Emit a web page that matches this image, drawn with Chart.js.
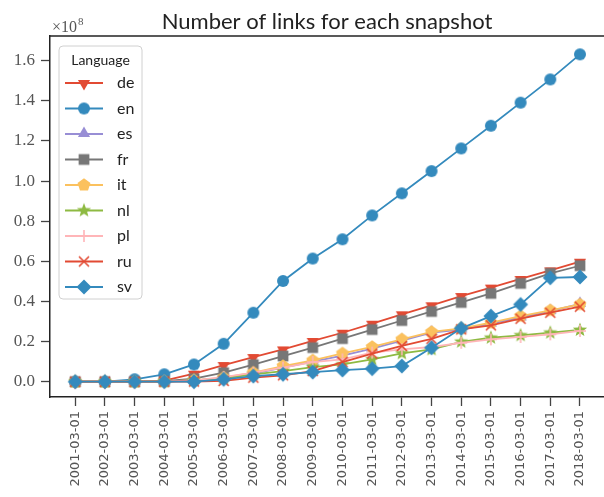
<!DOCTYPE html>
<html lang="en">
<head>
  <meta charset="UTF-8" />
  <title>Number of links for each snapshot</title>
  <script src="https://cdn.jsdelivr.net/npm/chart.js"></script>
  <style>
    html, body { margin: 0; padding: 0; background: #fff; }
    #wrap { width: 604px; height: 497px; }
  </style>
</head>
<body>
  <div id="wrap"><canvas id="links" width="604" height="497"></canvas></div>

  <script>
    // snapshot dates
    const snapshots = ['2001-03-01','2002-03-01','2003-03-01','2004-03-01','2005-03-01','2006-03-01',
      '2007-03-01','2008-03-01','2009-03-01','2010-03-01','2011-03-01','2012-03-01',
      '2013-03-01','2014-03-01','2015-03-01','2016-03-01','2017-03-01','2018-03-01'];

    // number of links, in units of 1e8
    const de = [0, 0, 0.002, 0.005, 0.04, 0.083, 0.123, 0.161, 0.203, 0.244, 0.289, 0.336, 0.381, 0.427, 0.469, 0.512, 0.555, 0.598];
    const en = [0, 0, 0.012, 0.037, 0.086, 0.189, 0.344, 0.502, 0.614, 0.710, 0.829, 0.939, 1.050, 1.163, 1.276, 1.391, 1.507, 1.632];
    const es = [0, 0, 0, 0.001, 0.006, 0.018, 0.04, 0.07, 0.10, 0.13, 0.165, 0.205, 0.245, 0.26, 0.29, 0.32, 0.352, 0.388];
    const fr = [0, 0, 0, 0.003, 0.015, 0.045, 0.085, 0.128, 0.17, 0.215, 0.26, 0.305, 0.35, 0.395, 0.44, 0.49, 0.54, 0.578];
    const it = [0, 0, 0, 0.001, 0.007, 0.02, 0.045, 0.078, 0.106, 0.141, 0.173, 0.211, 0.248, 0.266, 0.294, 0.327, 0.356, 0.385];
    const nl = [0, 0, 0, 0.001, 0.007, 0.017, 0.037, 0.053, 0.073, 0.086, 0.111, 0.141, 0.161, 0.199, 0.219, 0.231, 0.244, 0.258];
    const pl = [0, 0, 0, 0.001, 0.007, 0.023, 0.045, 0.07, 0.098, 0.111, 0.145, 0.161, 0.173, 0.194, 0.211, 0.223, 0.236, 0.253];
    const ru = [0, 0, 0, 0, 0.001, 0.004, 0.02, 0.032, 0.053, 0.098, 0.14, 0.178, 0.214, 0.261, 0.281, 0.314, 0.344, 0.374];
    const sv = [0, 0, 0, 0, 0, 0.012, 0.028, 0.037, 0.048, 0.058, 0.065, 0.078, 0.169, 0.266, 0.327, 0.385, 0.518, 0.522];

    const langs = ['de','en','es','fr','it','nl','pl','ru','sv'];
    const values = [de, en, es, fr, it, nl, pl, ru, sv];
    const colors = ['#E24A33','#348ABD','#988ED5','#777777','#FBC15E','#8EBA42','#FFB5B8','#E24A33','#348ABD'];
    const shapes = ['triDown','circle','triUp','square','pentagon','star','plus','x','diamond'];
    const yTicks = [0, 0.2, 0.4, 0.6, 0.8, 1.0, 1.2, 1.4, 1.6];

    function poly(g, cx, cy, r, n, start) {
      g.beginPath();
      for (let k = 0; k < n; k++) {
        const a = start + k * 2 * Math.PI / n;
        const px = cx + r * Math.cos(a), py = cy + r * Math.sin(a);
        k ? g.lineTo(px, py) : g.moveTo(px, py);
      }
      g.closePath();
      g.fill();
    }

    // marker images, shared by the lines and the legend
    function marker(shape, color) {
      const S = 18, m = S / 2;
      const c = document.createElement('canvas');
      c.width = c.height = S;
      const g = c.getContext('2d');
      g.fillStyle = color;
      g.strokeStyle = color;
      g.lineWidth = 1.6;
      if (shape === 'triDown') poly(g, m, m + 0.5, 7, 3, Math.PI / 2);
      else if (shape === 'triUp') poly(g, m, m - 0.5, 7, 3, -Math.PI / 2);
      else if (shape === 'circle') { g.beginPath(); g.arc(m, m, 6, 0, 2 * Math.PI); g.fill(); }
      else if (shape === 'square') poly(g, m, m, 7.6, 4, Math.PI / 4);
      else if (shape === 'diamond') poly(g, m, m, 7.5, 4, 0);
      else if (shape === 'pentagon') poly(g, m, m, 6.8, 5, -Math.PI / 2);
      else if (shape === 'star') {
        g.beginPath();
        for (let k = 0; k < 10; k++) {
          const r = k % 2 ? 3.2 : 7.5;
          const a = -Math.PI / 2 + k * Math.PI / 5;
          const px = m + r * Math.cos(a), py = m + r * Math.sin(a);
          k ? g.lineTo(px, py) : g.moveTo(px, py);
        }
        g.closePath(); g.fill();
      } else if (shape === 'plus') {
        g.beginPath(); g.moveTo(m - 6, m); g.lineTo(m + 6, m); g.moveTo(m, m - 6); g.lineTo(m, m + 6); g.stroke();
      } else if (shape === 'x') {
        g.beginPath(); g.moveTo(m - 5, m - 5); g.lineTo(m + 5, m + 5); g.moveTo(m + 5, m - 5); g.lineTo(m - 5, m + 5); g.stroke();
      }
      return c;
    }

    const markers = shapes.map((s, i) => marker(s, colors[i]));

    const datasets = langs.map((lang, i) => ({
      label: lang,
      data: values[i].map((v, j) => ({ x: j, y: v })),
      borderColor: colors[i],
      backgroundColor: colors[i],
      borderWidth: 1.8,
      pointStyle: markers[i],
      pointRadius: 6,
      tension: 0,
      clip: false,
      order: langs.length - 1 - i
    }));

    const decor = {
      id: 'decor',
      afterDraw(chart) {
        const ctx = chart.ctx, a = chart.chartArea;
        ctx.save();
        // top spine (right spine falls on the canvas edge)
        ctx.strokeStyle = '#222';
        ctx.lineWidth = 1.5;
        ctx.beginPath();
        ctx.moveTo(a.left, a.top);
        ctx.lineTo(a.right, a.top);
        ctx.stroke();

        // title
        ctx.fillStyle = '#222';
        ctx.font = '22px Lato';
        ctx.textAlign = 'center';
        ctx.textBaseline = 'alphabetic';
        ctx.fillText('Number of links for each snapshot', 327, 29);

        // offset label
        ctx.fillStyle = '#555';
        ctx.textAlign = 'left';
        ctx.font = '16px "Liberation Serif"';
        ctx.fillText('\u00d710', 52, 32);
        const w = ctx.measureText('\u00d710').width;
        ctx.font = '11px "Liberation Serif"';
        ctx.fillText('8', 52 + w + 1, 25);

        // legend
        const lx = 59, ly = 46, lw = 83, lh = 253;
        ctx.beginPath();
        ctx.roundRect(lx, ly, lw, lh, 4);
        ctx.fillStyle = 'rgba(255,255,255,0.8)';
        ctx.fill();
        ctx.strokeStyle = '#d0d0d0';
        ctx.lineWidth = 1;
        ctx.stroke();
        ctx.fillStyle = '#222';
        ctx.font = '14px Lato';
        ctx.textAlign = 'center';
        ctx.textBaseline = 'middle';
        ctx.fillText('Language', lx + lw / 2, 60);
        langs.forEach((lang, i) => {
          const y = 83 + i * 25.5;
          ctx.strokeStyle = colors[i];
          ctx.lineWidth = 1.8;
          ctx.beginPath();
          ctx.moveTo(65, y);
          ctx.lineTo(103, y);
          ctx.stroke();
          ctx.drawImage(markers[i], 84 - 9, y - 9);
          ctx.fillStyle = '#222';
          ctx.font = '16px Lato';
          ctx.textAlign = 'left';
          ctx.fillText(lang, 117, y);
        });
        ctx.restore();
      }
    };

    new Chart(document.getElementById('links'), {
      type: 'line',
      data: { datasets },
      options: {
        responsive: false,
        animation: false,
        layout: { autoPadding: false, padding: { top: 36, right: 0, left: 0, bottom: 0 } },
        plugins: { legend: { display: false }, title: { display: false }, tooltip: { enabled: false } },
        scales: {
          x: {
            type: 'linear',
            min: -0.85,
            max: 17.81,
            afterBuildTicks: s => { s.ticks = snapshots.map((_, i) => ({ value: i })); },
            afterFit: s => { s.height = 100; s.paddingLeft = 0; s.paddingRight = 0; },
            ticks: {
              callback: v => snapshots[v],
              minRotation: 90,
              maxRotation: 90,
              autoSkip: false,
              padding: 5,
              color: '#555',
              font: { family: 'DejaVu Sans', size: 13 }
            },
            grid: { drawOnChartArea: false, drawTicks: true, tickLength: 9, color: '#444', tickWidth: 1.3 },
            border: { display: true, color: '#222', width: 1.5 }
          },
          y: {
            min: -0.0763,
            max: 1.7233,
            afterBuildTicks: s => { s.ticks = yTicks.map(v => ({ value: v })); },
            afterFit: s => { s.width = 50; s.paddingTop = 0; s.paddingBottom = 0; },
            ticks: {
              callback: v => v.toFixed(1),
              padding: 6,
              color: '#555',
              font: { family: 'Liberation Serif', size: 17 }
            },
            grid: { drawOnChartArea: false, drawTicks: true, tickLength: 9, color: '#444', tickWidth: 1.3 },
            border: { display: true, color: '#222', width: 1.5 }
          }
        }
      },
      plugins: [decor]
    });
  </script>
</body>
</html>
